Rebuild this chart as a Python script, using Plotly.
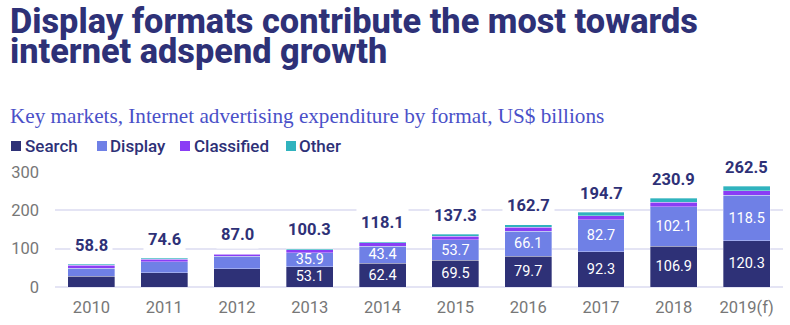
import plotly.graph_objects as go

years = ["2010", "2011", "2012", "2013", "2014", "2015", "2016", "2017", "2018", "2019(f)"]
search = [27.5, 37.3, 47.0, 53.1, 62.4, 69.5, 79.7, 92.3, 106.9, 120.3]
display = [21.5, 28.0, 33.0, 35.9, 43.4, 53.7, 66.1, 82.7, 102.1, 118.5]
classified = [7.5, 7.5, 5.0, 8.0, 9.0, 9.5, 10.0, 11.0, 12.0, 12.5]
other = [2.3, 1.8, 2.0, 3.3, 3.3, 4.6, 6.9, 8.7, 9.9, 11.2]
totals = [58.8, 74.6, 87.0, 100.3, 118.1, 137.3, 162.7, 194.7, 230.9, 262.5]
show_inner = [False, False, False, True, True, True, True, True, True, True]
series_names = ["Search", "Display", "Classified", "Other"]

NAVY = "#2e3177"
DISPLAY_C = "#6f80e6"
CLASS_C = "#8a3df5"
OTHER_C = "#30b3be"
colors = [NAVY, DISPLAY_C, CLASS_C, OTHER_C]

def inner_text(vals):
    return [f"{v:.1f}" if s else "" for v, s in zip(vals, show_inner)]

fig = go.Figure()
line = dict(width=0.6, color="rgba(255,255,255,0.55)")
inner_font = dict(color="white", size=14.5, family="Roboto")
fig.add_bar(x=years, y=search, name="Search", marker=dict(color=NAVY, line=line),
            text=inner_text(search), textposition="inside", insidetextanchor="middle",
            constraintext="none", textangle=0, textfont=inner_font, hoverinfo="y+name")
fig.add_bar(x=years, y=display, name="Display", marker=dict(color=DISPLAY_C, line=line),
            text=inner_text(display), textposition="inside", insidetextanchor="middle",
            constraintext="none", textangle=0, textfont=inner_font, hoverinfo="y+name")
fig.add_bar(x=years, y=classified, name="Classified", marker=dict(color=CLASS_C, line=line),
            hoverinfo="y+name")
fig.add_bar(x=years, y=other, name="Other", marker=dict(color=OTHER_C, line=line),
            hoverinfo="y+name")

# total labels (category index positions)
for i, t in enumerate(totals):
    fig.add_annotation(x=i, y=t, xref="x", yref="y", text=f"<b>{t:.1f}</b>", showarrow=False,
                       yanchor="middle", yshift=19, bgcolor="white", borderpad=4,
                       font=dict(size=16.5, color=NAVY, family="Roboto"))

L, T, PW, PH = 55, 172, 728.0, 115.0
def px(pix):
    return (pix - L) / PW
def py(pix):
    return 1 + (T - pix) / PH

fig.add_annotation(xref="paper", yref="paper", x=px(8), xanchor="left",
                   y=py(21), yanchor="middle", align="left",
                   text="Display formats contribute the most towards",
                   showarrow=False,
                   font=dict(size=34.3, color=NAVY, family="Roboto", weight=800))
fig.add_annotation(xref="paper", yref="paper", x=px(8), xanchor="left",
                   y=py(51), yanchor="middle", align="left",
                   text="internet adspend growth",
                   showarrow=False,
                   font=dict(size=34.3, color=NAVY, family="Roboto", weight=800))
fig.add_annotation(xref="paper", yref="paper", x=px(8), xanchor="left",
                   y=py(116), yanchor="middle", align="left",
                   text="Key markets, Internet advertising expenditure by format, US$ billions",
                   showarrow=False,
                   font=dict(size=21.2, color="#4a50c8", family="Liberation Serif"))

# legend (keys + labels)
key_left = [11, 97, 180, 286]
text_left = [24, 109, 193, 298]
for name, c, kl, tl in zip(series_names, colors, key_left, text_left):
    fig.add_shape(type="rect", xref="paper", yref="paper",
                  x0=px(kl), x1=px(kl + 10), y0=py(151), y1=py(141),
                  fillcolor=c, line=dict(width=0))
    fig.add_annotation(xref="paper", yref="paper", x=px(tl - 1), xanchor="left",
                       y=py(145.5), yanchor="middle", text=name, showarrow=False,
                       font=dict(size=17, color=NAVY, family="Roboto", weight=500))

fig.update_layout(
    width=790, height=325,
    margin=dict(l=L, r=7, t=T, b=38),
    paper_bgcolor="white", plot_bgcolor="white",
    barmode="stack", bargap=0.355,
    showlegend=False,
    xaxis=dict(type="category", showgrid=False, showline=False, ticks="",
               ticklabelstandoff=8,
               tickfont=dict(size=16.5, color="#777777", family="Roboto")),
    yaxis=dict(range=[0, 300], tickvals=[0, 100, 200, 300], showgrid=True, gridcolor="#e4e4f4",
               gridwidth=1.5, zeroline=True, zerolinecolor="#e4e4f4", zerolinewidth=1.5,
               tickfont=dict(size=16.5, color="#777777", family="Roboto"), ticklabelstandoff=15),
)
fig.update_traces(cliponaxis=False)
fig.write_html("out.html")
